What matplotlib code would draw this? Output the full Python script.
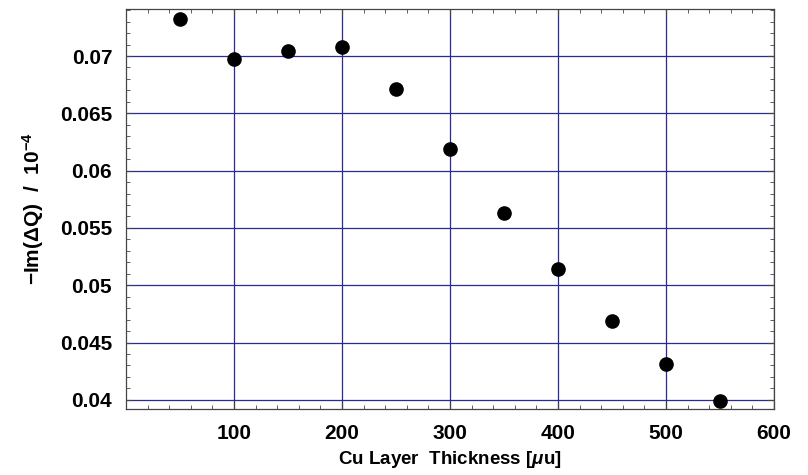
import matplotlib.pyplot as plt
from matplotlib.ticker import MultipleLocator

# -------------------------------
# Data
# -------------------------------
thickness = [50, 100, 150, 200, 250, 300, 350, 400, 450, 500, 550]
im_dq = [0.0732, 0.0697, 0.0704, 0.0708, 0.0671, 0.0619, 0.0563,
         0.0514, 0.0469, 0.0431, 0.0399]

x_ticks = [100, 200, 300, 400, 500, 600]
y_ticks = [0.04, 0.045, 0.05, 0.055, 0.06, 0.065, 0.07]
y_labels = ["0.04", "0.045", "0.05", "0.055", "0.06", "0.065", "0.07"]

plt.rcParams["font.family"] = ["Liberation Sans", "DejaVu Sans"]
plt.rcParams["mathtext.fontset"] = "custom"
plt.rcParams["mathtext.it"] = "Liberation Sans:italic:bold"
plt.rcParams["mathtext.rm"] = "Liberation Sans:bold"
plt.rcParams["mathtext.bf"] = "Liberation Sans:bold"

fig = plt.figure(figsize=(8.08, 4.75), dpi=100)
ax = fig.add_axes([0.156, 0.139, 0.802, 0.842])

ax.plot(thickness, im_dq, "o", color="black", markersize=9.5, zorder=3)

ax.set_xlim(0, 600)
ax.set_ylim(0.0392, 0.0741)

ax.set_xticks(x_ticks)
ax.set_yticks(y_ticks)
ax.set_yticklabels(y_labels)
ax.xaxis.set_minor_locator(MultipleLocator(20))
ax.yaxis.set_minor_locator(MultipleLocator(0.001))

ax.grid(True, which="major", color="#2a2a96", linewidth=0.9)
ax.tick_params(which="both", direction="in", top=True, right=True, color="#444444")
ax.tick_params(which="major", length=5, width=0.8, labelsize=15)
ax.tick_params(axis="y", which="major", pad=10)
ax.tick_params(axis="x", which="major", pad=11)
ax.tick_params(which="minor", length=3, width=0.6)
for lbl in ax.get_xticklabels() + ax.get_yticklabels():
    lbl.set_fontweight("bold")
for sp in ax.spines.values():
    sp.set_color("#444444")
    sp.set_linewidth(0.9)

ax.set_xlabel(r"Cu Layer  Thickness [$\mu$u]", fontsize=13.5, fontweight="bold", labelpad=4)
ax.set_ylabel(r"$-$Im($\Delta$Q)  /  10$^{-4}$", fontsize=15, fontweight="bold", labelpad=10)

fig.savefig("out.png", dpi=100)
